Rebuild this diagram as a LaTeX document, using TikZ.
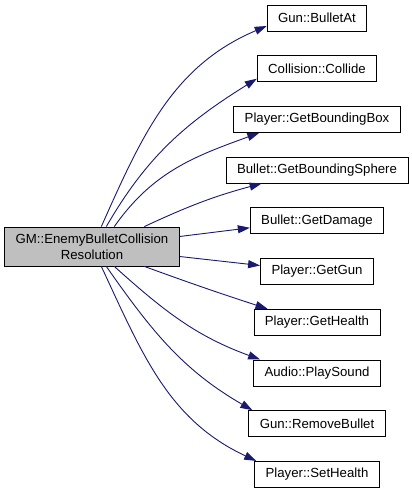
\documentclass[tikz,border=0pt]{standalone}
\usepackage{fontspec}
\setmainfont{Liberation Sans}
\usepackage{tikz}
\usetikzlibrary{arrows.meta, positioning}
\definecolor{edgeblue}{RGB}{25,25,112}
\definecolor{maingray}{RGB}{191,191,191}
\tikzset{
  fn/.style={rectangle, draw=black, fill=white, line width=0.8pt,
    minimum height=26pt, inner xsep=11pt, inner ysep=0pt,
    font=\fontsize{13.2}{16}\selectfont},
  caller/.style={fn, fill=maingray, minimum height=39pt, align=center},
  call/.style={-{Triangle[length=12pt,width=8pt]}, line width=0.9pt, edgeblue}
}
\begin{document}
\begin{tikzpicture}[x=1pt, y=1pt, node distance=23.9pt]
  \useasboundingbox (0,0) rectangle (412,-493);
  \node[caller] (gm) at (92,-246.5) {GM::EnemyBulletCollision\\Resolution};
  \node[fn] (bulletat) at (317,-18) {Gun::BulletAt};
  \node[fn, below=of bulletat] (collide) {Collision::Collide};
  \node[fn, below=of collide] (bbox) {Player::GetBoundingBox};
  \node[fn, below=of bbox] (bsphere) {Bullet::GetBoundingSphere};
  \node[fn, below=of bsphere] (damage) {Bullet::GetDamage};
  \node[fn, below=of damage] (getgun) {Player::GetGun};
  \node[fn, below=of getgun] (gethealth) {Player::GetHealth};
  \node[fn, below=of gethealth] (sound) {Audio::PlaySound};
  \node[fn, below=of sound] (remove) {Gun::RemoveBullet};
  \node[fn, below=of remove] (sethealth) {Player::SetHealth};
  % upper calls
  \draw[call] ([xshift=97pt]gm.north west) to[out=66, in=203] ([yshift=-8pt]bulletat.west);
  \draw[call] ([xshift=102pt]gm.north west) to[out=60, in=212] ([yshift=-10pt]collide.west);
  \draw[call] ([xshift=110pt]gm.north west) to[out=55, in=200] ([xshift=26pt]bbox.south west);
  \draw[call] ([xshift=140pt]gm.north west) to[out=25, in=195] ([xshift=36pt]bsphere.south west);
  \draw[call] ([yshift=10pt]gm.east) -- ([yshift=-7pt]damage.west);
  \draw[call] ([yshift=-10pt]gm.east) -- ([yshift=6pt]getgun.west);
  % lower calls
  \draw[call] ([xshift=140pt]gm.south west) to[out=-20, in=162] ([xshift=14pt]gethealth.north west);
  \draw[call] ([xshift=110pt]gm.south west) to[out=-42, in=160] ([xshift=7pt]sound.north west);
  \draw[call] ([xshift=102pt]gm.south west) to[out=-55, in=150] ([xshift=4pt]remove.north west);
  \draw[call] ([xshift=97pt]gm.south west) to[out=-65, in=155] ([xshift=2pt]sethealth.north west);
\end{tikzpicture}
\end{document}
